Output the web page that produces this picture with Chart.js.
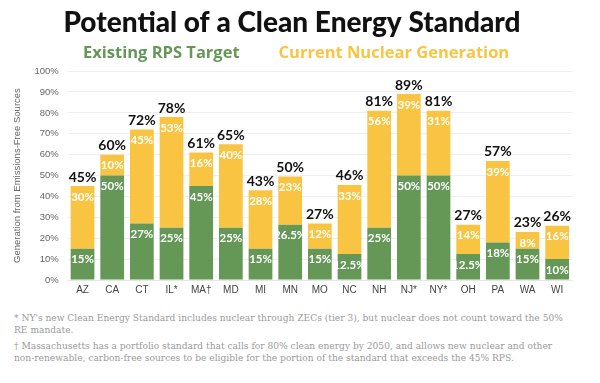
<!DOCTYPE html>
<html>
<head>
<meta charset="utf-8">
<script src="https://cdn.jsdelivr.net/npm/chart.js"></script>
<style>
  body { margin: 0; background: #fff; width: 600px; height: 383px; overflow: hidden; }
  #wrap { position: relative; width: 600px; height: 300px; }
  .notas { font-family: "DejaVu Serif", serif; font-size: 9.1px; color: #9a9a9a; line-height: 12px; margin-left: 14px; white-space: nowrap; }
  .notas p { margin: 0 0 4px 0; }
</style>
</head>
<body>
<div id="wrap"><canvas id="grafica"></canvas></div>
<div class="notas" style="margin-top:12px">
  <p>* NY's new Clean Energy Standard includes nuclear through ZECs (tier 3), but nuclear does not count toward the 50%<br>RE mandate.</p>
  <p>† Massachusetts has a portfolio standard that calls for 80% clean energy by 2050, and allows new nuclear and other<br>non-renewable, carbon-free sources to be eligible for the portion of the standard that exceeds the 45% RPS.</p>
</div>
<script>
// Datos del gráfico
const estados = ['AZ', 'CA', 'CT', 'IL*', 'MA†', 'MD', 'MI', 'MN', 'MO', 'NC', 'NH', 'NJ*', 'NY*', 'OH', 'PA', 'WA', 'WI'];
const metaRPS = [15, 50, 27, 25, 45, 25, 15, 26.5, 15, 12.5, 25, 50, 50, 12.5, 18, 15, 10];
const nuclearActual = [30, 10, 45, 53, 16, 40, 28, 23, 12, 33, 56, 39, 31, 14, 39, 8, 16];
const ticksY = [0, 10, 20, 30, 40, 50, 60, 70, 80, 90, 100];

const verde = '#659757';
const amarillo = '#f9c441';

// Etiquetas dentro de las barras y totales arriba
const etiquetas = {
    id: 'etiquetas',
    afterDatasetsDraw(chart) {
        const ctx = chart.ctx;
        ctx.save();
        ctx.textAlign = 'center';
        ctx.textBaseline = 'middle';
        chart.data.datasets.forEach((ds, i) => {
            const meta = chart.getDatasetMeta(i);
            meta.data.forEach((barra, j) => {
                ctx.fillStyle = '#fff';
                ctx.font = 'bold 11.5px Lato';
                ctx.fillText(ds.data[j] + '%', barra.x, barra.y + 11);
            });
        });
        const ultima = chart.getDatasetMeta(chart.data.datasets.length - 1);
        ultima.data.forEach((barra, j) => {
            const total = Math.round(metaRPS[j] + nuclearActual[j]);
            ctx.fillStyle = '#111';
            ctx.font = 'bold 14px Lato';
            ctx.fillText(total + '%', barra.x, barra.y - 9);
        });
        ctx.restore();
    }
};

const ctx = document.getElementById('grafica').getContext('2d');
new Chart(ctx, {
    type: 'bar',
    data: {
        labels: estados,
        datasets: [{
            label: 'Existing RPS Target',
            data: metaRPS,
            backgroundColor: verde,
            categoryPercentage: 1,
            barPercentage: 0.8
        }, {
            label: 'Current Nuclear Generation',
            data: nuclearActual,
            backgroundColor: amarillo,
            categoryPercentage: 1,
            barPercentage: 0.8
        }]
    },
    options: {
        responsive: true,
        maintainAspectRatio: false,
        animation: false,
        layout: { padding: { left: 12, right: 28, top: 6, bottom: 0 } },
        plugins: {
            title: {
                display: true,
                text: 'Potential of a Clean Energy Standard',
                color: '#111',
                font: { family: 'Lato', size: 28, weight: '900' },
                padding: { top: 0, bottom: 0 }
            },
            legend: {
                display: true,
                onClick: null,
                labels: {
                    boxWidth: 0,
                    boxHeight: 0,
                    padding: 5,
                    font: { family: 'Open Sans', size: 16.5, weight: 'bold' },
                    generateLabels(chart) {
                        // espacio extra entre las dos leyendas
                        return chart.data.datasets.map((ds, i) => ({
                            text: i === 0 ? ds.label + '      ' : ds.label,
                            fillStyle: 'rgba(0,0,0,0)',
                            strokeStyle: 'rgba(0,0,0,0)',
                            lineWidth: 0,
                            fontColor: ds.backgroundColor,
                            datasetIndex: i
                        }));
                    }
                }
            },
            tooltip: { enabled: false }
        },
        scales: {
            x: {
                stacked: true,
                grid: { display: false, drawTicks: false },
                border: { color: '#e6e6e6' },
                ticks: {
                    color: '#444',
                    autoSkip: false,
                    maxRotation: 0,
                    minRotation: 0,
                    padding: 4,
                    font: { family: 'Liberation Sans', size: 10 }
                }
            },
            y: {
                stacked: true,
                min: 0,
                max: 100,
                afterBuildTicks(scale) {
                    scale.ticks = ticksY.map(v => ({ value: v }));
                },
                grid: { color: '#efefef', drawTicks: false },
                border: { display: false },
                ticks: {
                    color: '#666',
                    padding: 9,
                    font: { family: 'Liberation Sans', size: 9.5 },
                    callback: v => v + '%'
                },
                title: {
                    display: true,
                    text: 'Generation from Emissions-Free Sources',
                    color: '#666',
                    font: { family: 'Liberation Sans', size: 9.5 },
                    padding: { top: 0, bottom: 2 }
                }
            }
        }
    },
    plugins: [etiquetas]
});
</script>
</body>
</html>
